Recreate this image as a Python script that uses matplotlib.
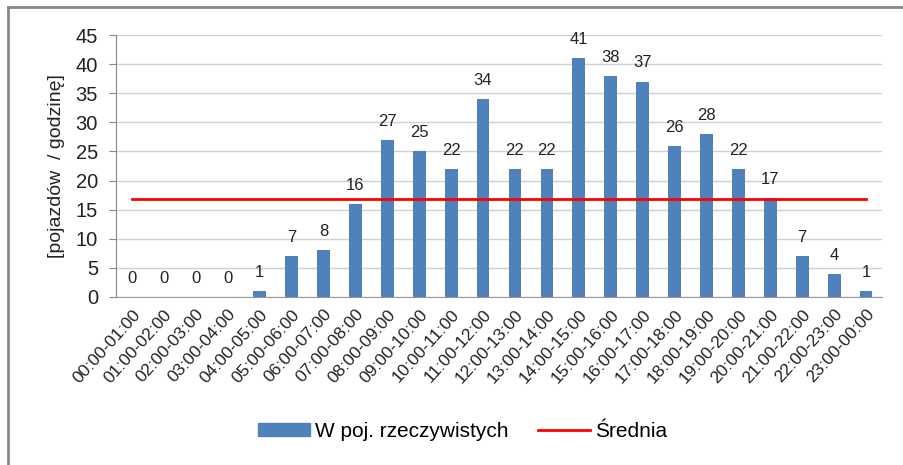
import numpy as np
import matplotlib.pyplot as plt
from matplotlib.lines import Line2D

plt.rcParams['font.family'] = ['Liberation Sans', 'DejaVu Sans']

godziny = ["00:00-01:00", "01:00-02:00", "02:00-03:00", "03:00-04:00", "04:00-05:00",
           "05:00-06:00", "06:00-07:00", "07:00-08:00", "08:00-09:00", "09:00-10:00",
           "10:00-11:00", "11:00-12:00", "12:00-13:00", "13:00-14:00", "14:00-15:00",
           "15:00-16:00", "16:00-17:00", "17:00-18:00", "18:00-19:00", "19:00-20:00",
           "20:00-21:00", "21:00-22:00", "22:00-23:00", "23:00-00:00"]
pojazdy = [0, 0, 0, 0, 1, 7, 8, 16, 27, 25, 22, 34, 22, 22, 41, 38, 37, 26, 28, 22, 17, 7, 4, 1]
srednia = np.mean(pojazdy)

fig = plt.figure(figsize=(9.04, 4.65), dpi=100)
ax = fig.add_axes([0.1283, 0.3613, 0.8474, 0.5634])

x = np.arange(len(godziny))
ax.bar(x, pojazdy, width=0.4, color='#4F81BD', zorder=3)
ax.plot([x[0], x[-1]], [srednia, srednia], color='#FF0000', lw=2, zorder=4)

for xi, v in zip(x, pojazdy):
    ax.annotate(str(v), (xi, v), xytext=(0, 8), textcoords='offset points',
                ha='center', va='bottom', fontsize=12, color='#222222', zorder=5)

ax.set_xlim(-0.5, len(godziny) - 0.5)
ax.set_ylim(0, 45)
ax.set_yticks(range(0, 46, 5))
ax.tick_params(axis='y', labelsize=14.5, length=5, color='#888888', pad=8, labelcolor='#222222')
ax.set_xticks(x)
ax.set_xticklabels(godziny, rotation=48, ha='right', rotation_mode='anchor', fontsize=12.5, color='#222222')
ax.tick_params(axis='x', length=0, pad=7)
ax.grid(axis='y', color='#d0d0d0', lw=1, zorder=0)
for s in ['top', 'right']:
    ax.spines[s].set_visible(False)
ax.spines['left'].set_color('#888888')
ax.spines['bottom'].set_color('#999999')
ax.set_ylabel('[pojazdów  / godzinę]', fontsize=14, color='#222222')
ax.yaxis.set_label_coords(-0.066, 0.5)

handles = [plt.Rectangle((0, 0), 1, 1, color='#4F81BD'),
           Line2D([0], [0], color='#FF0000', lw=2)]
fig.legend(handles, ['W poj. rzeczywistych', 'Średnia'], loc='center', bbox_to_anchor=(0.512, 0.072),
           ncol=2, frameon=False, fontsize=15, handlelength=2.5, handleheight=0.55,
           columnspacing=1.4, handletextpad=0.25)

# ramka wykresu
fig.add_artist(Line2D([8 / 904, 1], [1 - 7 / 465, 1 - 7 / 465], transform=fig.transFigure, color='#888888', lw=2))
fig.add_artist(Line2D([8 / 904, 8 / 904], [0, 1 - 7 / 465], transform=fig.transFigure, color='#888888', lw=2))

plt.savefig('out.png', dpi=100)
